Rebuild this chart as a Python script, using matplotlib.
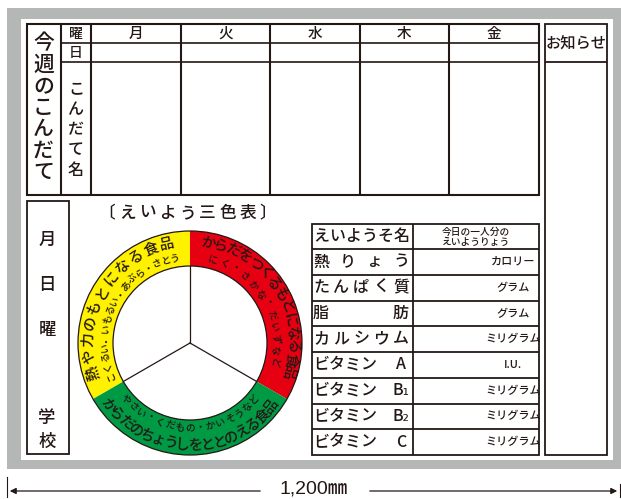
import matplotlib
matplotlib.use("Agg")
import matplotlib.pyplot as plt
from matplotlib.patches import Rectangle, Wedge, Circle
import numpy as np

plt.rcParams['font.family'] = ['Noto Sans CJK JP', 'DejaVu Sans']
plt.rcParams['font.weight'] = 'medium'

# --- data ---
days = ["月", "火", "水", "木", "金"]
board_title = list("今週のこんだて")
menu_label = list("こんだて名")
side_label = ["月", "日", "曜", "学", "校"]
chart_title = list("〔えいよう三色表〕")

table_head = ["えいようそ名", "今日の一人分の\nえいようりょう"]
nutrients = [
    ["熱", "り", "ょ", "う"],
    ["た", "ん", "ぱ", "く", "質"],
    ["脂", "肪"],
    ["カ", "ル", "シ", "ウ", "ム"],
    ["ビ", "タ", "ミ", "ン", "", "A"],
    ["ビ", "タ", "ミ", "ン", "", "B₁"],
    ["ビ", "タ", "ミ", "ン", "", "B₂"],
    ["ビ", "タ", "ミ", "ン", "", "C"],
]
units = ["カロリー", "グラム", "グラム", "ミリグラム", "I.U.", "ミリグラム", "ミリグラム", "ミリグラム"]

group_colors = ["#fff100", "#e60012", "#009944"]
group_span = [(90, 210), (-30, 90), (210, 330)]
group_titles = ["熱や力のもとになる食品", "からだをつくるもとになる食品", "からだのちょうしをととのえる食品"]
group_foods = ["こくるい・いもるい・あぶら・さとう", "にく・さかな・だいずなど", "やさい・くだもの・かいそうなど"]
size_label = "1,200㎜"

INK = "#231815"
GRAY = "#b5b6b6"

fig = plt.figure(figsize=(6.21, 4.99), dpi=100)
ax = fig.add_axes([0, 0, 1, 1])
ax.set_xlim(0, 621)
ax.set_ylim(499, 0)
ax.axis("off")


def hline(y, x0, x1, lw=1.3):
    ax.plot([x0, x1], [y, y], color=INK, lw=lw, solid_capstyle="butt")


def vline(x, y0, y1, lw=1.3):
    ax.plot([x, x], [y0, y1], color=INK, lw=lw, solid_capstyle="butt")


def box(x0, y0, x1, y1, lw=1.3):
    ax.add_patch(Rectangle((x0, y0), x1 - x0, y1 - y0, fill=False, ec=INK, lw=lw))


# board
ax.add_patch(Rectangle((7, 8), 614, 461, fc=GRAY, ec="none"))
ax.add_patch(Rectangle((21, 19), 591.5, 441, fc="white", ec="none"))

# weekly menu table
col_x = [27, 60.7, 91, 181, 270, 360, 449, 539]
row_y = [24, 43, 62, 195]
box(col_x[0], row_y[0], col_x[-1], row_y[-1], lw=1.5)
for x in col_x[1:-1]:
    vline(x, row_y[0], row_y[-1], lw=1.5)
for y in row_y[1:3]:
    hline(y, col_x[1], col_x[-1], lw=1.2)

for i, d in enumerate(days):
    ax.text((col_x[i + 2] + col_x[i + 3]) / 2, 33.5, d, ha="center", va="center",
            fontsize=10.5, color=INK)
ax.text(76, 33.5, "曜", ha="center", va="center", fontsize=10, color=INK)
ax.text(76, 52.5, "日", ha="center", va="center", fontsize=10, color=INK)
for i, ch in enumerate(board_title):
    ax.text(43.5, 43 + i * 21.5, ch, ha="center", va="center", fontsize=15, color=INK)
for i, ch in enumerate(menu_label):
    ax.text(76, 90 + i * 20, ch, ha="center", va="center", fontsize=11.5, color=INK)

# notice box
box(544.5, 24, 607, 455)
hline(62, 544.5, 607)
ax.text(575.7, 43, "お知らせ", ha="center", va="center", fontsize=11, color=INK)

# date box
box(27, 201, 69, 454)
for ch, y in zip(side_label, [240, 285, 330, 418, 442]):
    ax.text(47, y, ch, ha="center", va="center", fontsize=12.5, color=INK)

# chart title
for i, ch in enumerate(chart_title):
    ax.text(107 + i * 20.1, 213, ch, ha="center", va="center", fontsize=12, color=INK)

# three-colour ring
cx, cy = 190, 343
r_out, r_in = 112, 77
for col, (a1, a2) in zip(group_colors, group_span):
    ax.add_patch(Wedge((cx, cy), r_out, -a2, -a1, width=r_out - r_in, fc=col, ec="none"))
ax.add_patch(Circle((cx, cy), r_out, fill=False, ec=INK, lw=0.9))
ax.add_patch(Circle((cx, cy), r_in, fill=False, ec=INK, lw=0.9))
for a in [90, 210, 330]:
    t = np.radians(a)
    ax.plot([cx, cx + r_in * np.cos(t)], [cy, cy - r_in * np.sin(t)], color=INK, lw=0.9)


def arc_text(s, r, a_start, a_end, size, top_out=True):
    angs = np.linspace(a_start, a_end, len(s))
    for ch, a in zip(s, angs):
        t = np.radians(a)
        rot = a - 90 if top_out else a + 90
        ax.text(cx + r * np.cos(t), cy - r * np.sin(t), ch, rotation=rot,
                rotation_mode="anchor", ha="center", va="center", fontsize=size, color=INK)


arc_text(group_titles[0], 101.5, 197, 103, 10.5)
arc_text(group_foods[0], 86, 202, 100, 7)
arc_text(group_titles[1], 102, 80, -17, 10.5)
arc_text(group_foods[1], 85.5, 74.5, -13, 7)
arc_text(group_titles[2], 103, 217, 322, 10.5, top_out=False)
arc_text(group_foods[2], 85.5, 221, 319, 7, top_out=False)

# nutrient table
tx = [312, 413, 539]
ty = [224.3] + list(np.linspace(249, 455, len(nutrients) + 1))
box(tx[0], ty[0], tx[-1], ty[-1])
vline(tx[1], ty[0], ty[-1])
for y in ty[1:-1]:
    hline(y, tx[0], tx[-1])

head_tokens = list(table_head[0])
for x, ch in zip(np.linspace(321, 402, len(head_tokens)), head_tokens):
    ax.text(x, (ty[0] + ty[1]) / 2, ch, ha="center", va="center", fontsize=11.5, color=INK)
ax.text(476, (ty[0] + ty[1]) / 2, table_head[1], ha="center", va="center",
        fontsize=7, linespacing=1.0, color=INK)

for i, (tokens, unit) in enumerate(zip(nutrients, units)):
    yc = (ty[i + 1] + ty[i + 2]) / 2
    for x, ch in zip(np.linspace(321, 401, len(tokens)), tokens):
        if ch:
            ax.text(x, yc, ch, ha="center", va="center", fontsize=11.5, color=INK)
    ax.text(513, yc, unit, ha="center", va="center", fontsize=8, color=INK)

# width dimension
ax.plot([7, 7], [477, 497], color=INK, lw=0.8)
ax.plot([620, 620], [484, 497], color=INK, lw=0.8)
ax.annotate("", xy=(7, 491), xytext=(263, 491),
            arrowprops=dict(arrowstyle="-|>", color=INK, lw=0.9, mutation_scale=9))
ax.annotate("", xy=(620, 491), xytext=(367, 491),
            arrowprops=dict(arrowstyle="-|>", color=INK, lw=0.9, mutation_scale=9))
ax.text(313.5, 489, size_label, ha="center", va="center", fontsize=14, color=INK,
        family=["Liberation Sans", "Noto Sans CJK JP"])

fig.savefig("out.png", dpi=100)
